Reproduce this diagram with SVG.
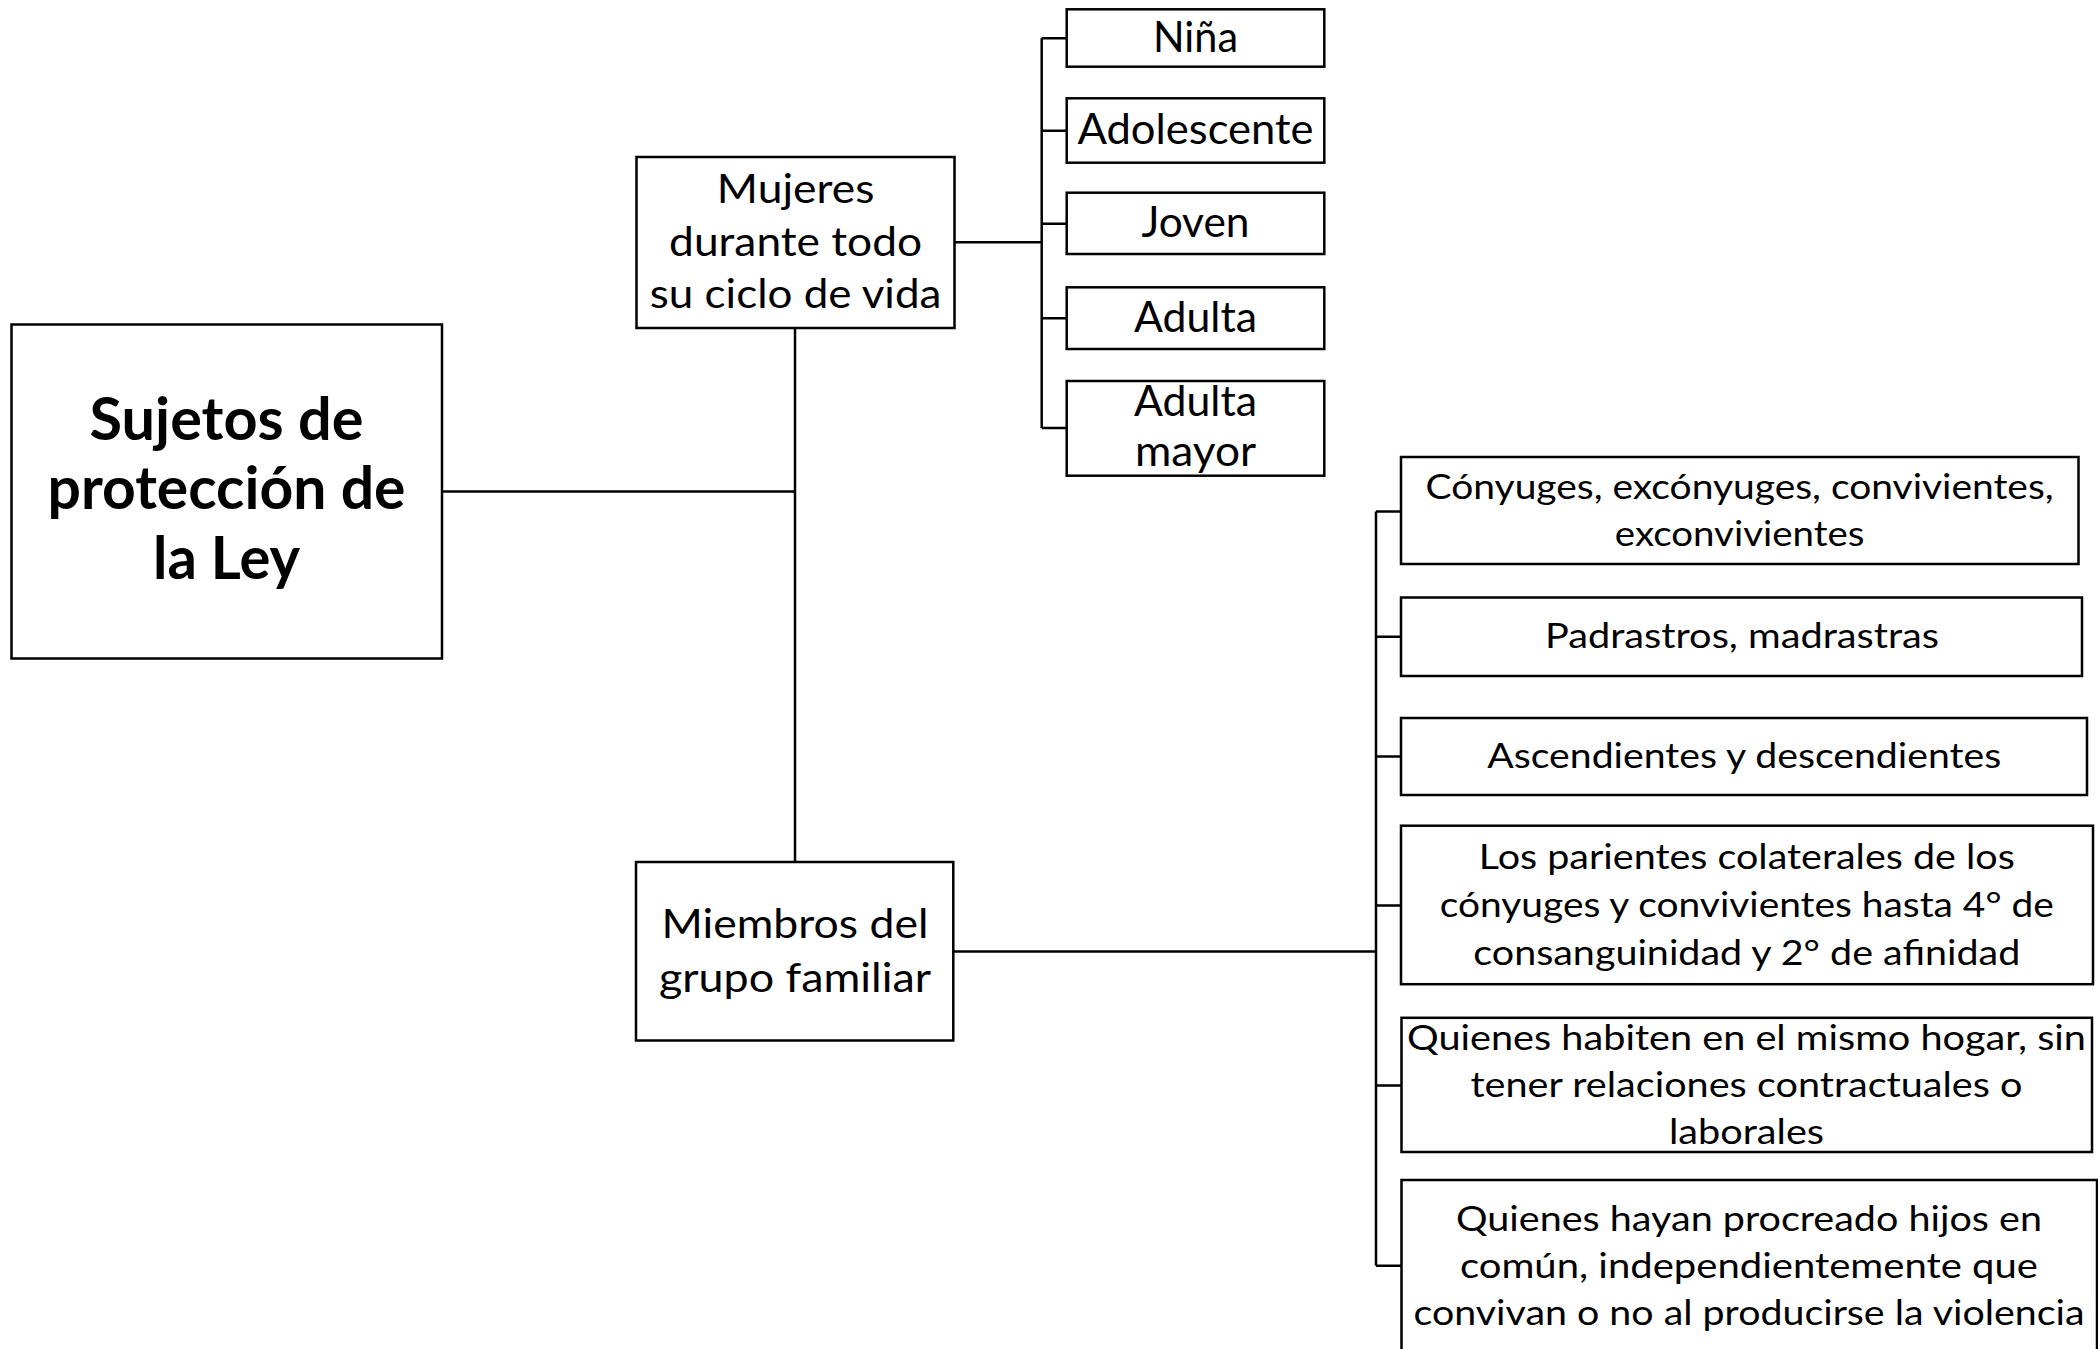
<svg xmlns="http://www.w3.org/2000/svg" width="2098" height="1349" viewBox="0 0 2098 1349">
<style>
.box{fill:#fff;stroke:#000;stroke-width:2.5}
.con{fill:none;stroke:#000;stroke-width:2.5}
text{font-family:Lato,"Open Sans","Liberation Sans",sans-serif;fill:#000;text-anchor:middle}
.t{font-size:34px}
.m{font-size:40px}
.s{font-size:43px}
.b{font-size:60px;font-weight:bold}
</style>
<rect width="2098" height="1349" fill="#fff"/>
<g id="connectors">
<path class="con" d="M442,491.5H795M795,328V862"/>
<path class="con" d="M954.7,242.3H1041.7M1041.7,38.3V428M1041.7,38.3H1066.7M1041.7,130.7H1066.7M1041.7,223.7H1066.7M1041.7,318.3H1066.7M1041.7,428H1066.7"/>
<path class="con" d="M953.3,951.5H1376M1376,511.4V1265.7M1376,511.4H1401M1376,636.8H1401M1376,756.4H1401M1376,905.4H1401M1376,1085.4H1401M1376,1265.7H1401"/>
</g>
<g id="sujetos">
<rect class="box" x="11.5" y="324.5" width="430.5" height="334"/>
<text class="b" x="226.5" y="439.5" textLength="274" lengthAdjust="spacingAndGlyphs">Sujetos de</text>
<text class="b" x="226.5" y="509" textLength="358" lengthAdjust="spacingAndGlyphs">protección de</text>
<text class="b" x="226.5" y="579" textLength="147" lengthAdjust="spacingAndGlyphs">la Ley</text>
</g>
<g id="mujeres">
<rect class="box" x="636.5" y="157" width="318" height="171"/>
<text class="m" x="795.6" y="203" textLength="157.5" lengthAdjust="spacingAndGlyphs">Mujeres</text>
<text class="m" x="795.6" y="255.8" textLength="253" lengthAdjust="spacingAndGlyphs">durante todo</text>
<text class="m" x="795.6" y="308" textLength="291.5" lengthAdjust="spacingAndGlyphs">su ciclo de vida</text>
</g>
<g id="miembros">
<rect class="box" x="636" y="862" width="317.3" height="178.5"/>
<text class="m" x="795" y="938.3" textLength="267" lengthAdjust="spacingAndGlyphs">Miembros del</text>
<text class="m" x="795" y="991.7" textLength="272" lengthAdjust="spacingAndGlyphs">grupo familiar</text>
</g>
<g id="nina">
<rect class="box" x="1066.7" y="9.3" width="257.6" height="57.4"/>
<text class="s" x="1195.5" y="51.7" textLength="85" lengthAdjust="spacingAndGlyphs">Niña</text>
</g>
<g id="adolescente">
<rect class="box" x="1066.7" y="98.3" width="257.6" height="64.4"/>
<text class="s" x="1195.5" y="144" textLength="236" lengthAdjust="spacingAndGlyphs">Adolescente</text>
</g>
<g id="joven">
<rect class="box" x="1066.7" y="192.7" width="257.6" height="61.3"/>
<text class="s" x="1195.5" y="237.3" textLength="108" lengthAdjust="spacingAndGlyphs">Joven</text>
</g>
<g id="adulta">
<rect class="box" x="1066.7" y="287.3" width="257.6" height="61.7"/>
<text class="s" x="1195.5" y="331.7" textLength="123" lengthAdjust="spacingAndGlyphs">Adulta</text>
</g>
<g id="adulta-mayor">
<rect class="box" x="1066.7" y="381" width="257.6" height="94.7"/>
<text class="s" x="1195.5" y="416" textLength="123" lengthAdjust="spacingAndGlyphs">Adulta</text>
<text class="s" x="1195.5" y="465.5" textLength="121" lengthAdjust="spacingAndGlyphs">mayor</text>
</g>
<g id="conyuges">
<rect class="box" x="1401" y="457" width="677.5" height="107"/>
<text class="t" x="1739.6" y="499" textLength="628" lengthAdjust="spacingAndGlyphs">Cónyuges, excónyuges, convivientes,</text>
<text class="t" x="1739.6" y="546" textLength="249.5" lengthAdjust="spacingAndGlyphs">exconvivientes</text>
</g>
<g id="padrastros">
<rect class="box" x="1401" y="597.5" width="681" height="78.5"/>
<text class="t" x="1742" y="648" textLength="394" lengthAdjust="spacingAndGlyphs">Padrastros, madrastras</text>
</g>
<g id="ascendientes">
<rect class="box" x="1401" y="718" width="686" height="77"/>
<text class="t" x="1744.2" y="767.5" textLength="514" lengthAdjust="spacingAndGlyphs">Ascendientes y descendientes</text>
</g>
<g id="parientes">
<rect class="box" x="1401" y="825.7" width="692" height="158.5"/>
<text class="t" x="1746.8" y="869.3" textLength="536" lengthAdjust="spacingAndGlyphs">Los parientes colaterales de los</text>
<text class="t" x="1746.8" y="917.4" textLength="614" lengthAdjust="spacingAndGlyphs">cónyuges y convivientes hasta 4° de</text>
<text class="t" x="1746.8" y="964.5" textLength="547" lengthAdjust="spacingAndGlyphs">consanguinidad y 2° de afinidad</text>
</g>
<g id="hogar">
<rect class="box" x="1401.5" y="1017.8" width="690.5" height="134.2"/>
<text class="t" x="1746.5" y="1050.3" textLength="679" lengthAdjust="spacingAndGlyphs">Quienes habiten en el mismo hogar, sin</text>
<text class="t" x="1746.5" y="1097" textLength="552" lengthAdjust="spacingAndGlyphs">tener relaciones contractuales o</text>
<text class="t" x="1746.5" y="1144" textLength="155" lengthAdjust="spacingAndGlyphs">laborales</text>
</g>
<g id="hijos">
<rect class="box" x="1401.5" y="1180" width="695.5" height="185"/>
<text class="t" x="1749" y="1230.7" textLength="586" lengthAdjust="spacingAndGlyphs">Quienes hayan procreado hijos en</text>
<text class="t" x="1749" y="1278" textLength="578" lengthAdjust="spacingAndGlyphs">común, independientemente que</text>
<text class="t" x="1749" y="1325.2" textLength="671" lengthAdjust="spacingAndGlyphs">convivan o no al producirse la violencia</text>
</g>
</svg>
